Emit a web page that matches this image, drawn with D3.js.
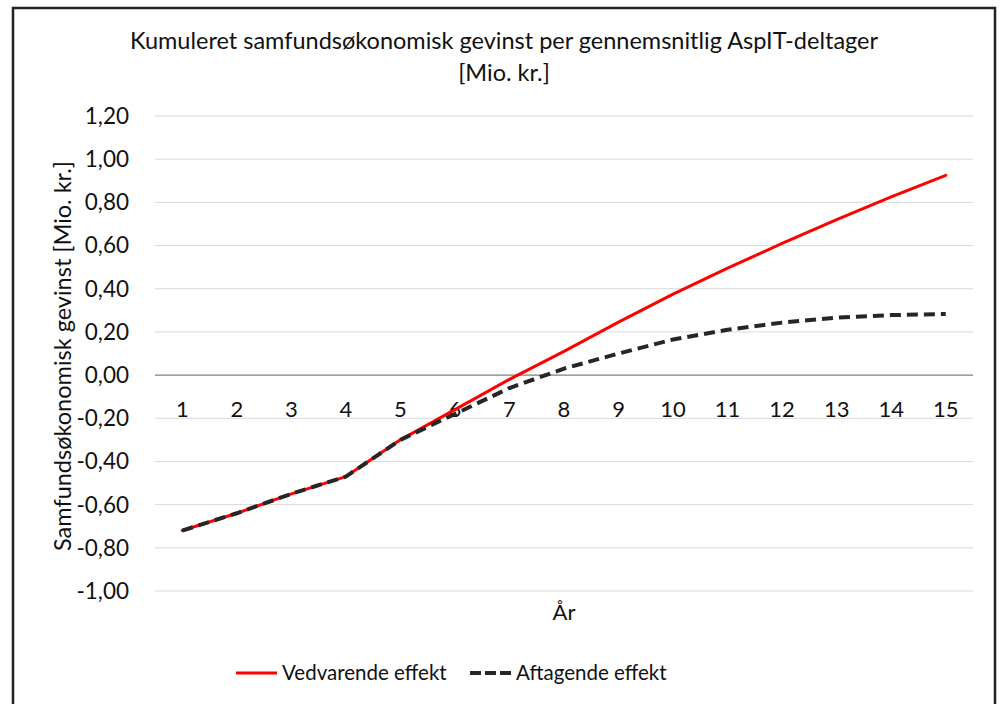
<!DOCTYPE html>
<html>
<head>
<meta charset="utf-8">
<script src="https://cdn.jsdelivr.net/npm/d3@7"></script>
<style>
  body { margin: 0; background: #fff; }
  svg { display: block; font-family: Lato, "Open Sans", sans-serif; }
</style>
</head>
<body>
<div id="chart"></div>
<script>
const years = [1, 2, 3, 4, 5, 6, 7, 8, 9, 10, 11, 12, 13, 14, 15];
const vedvarende = [-0.72, -0.64, -0.55, -0.47, -0.30, -0.16, -0.02, 0.11, 0.245, 0.375, 0.495, 0.61, 0.72, 0.825, 0.925];
const aftagende = [-0.72, -0.64, -0.55, -0.47, -0.30, -0.18, -0.06, 0.03, 0.10, 0.165, 0.21, 0.243, 0.266, 0.278, 0.283];
const yTicks = [-1, -0.8, -0.6, -0.4, -0.2, 0, 0.2, 0.4, 0.6, 0.8, 1, 1.2];
const seriesNames = ['Vedvarende effekt', 'Aftagende effekt'];

const W = 1000, H = 704;
const svg = d3.select('#chart').append('svg')
    .attr('width', W)
    .attr('height', H);

// chart frame (bottom edge runs off the picture)
svg.append('path')
    .attr('d', 'M13,712 V8 H995 V712')
    .attr('fill', 'none')
    .attr('stroke', '#222')
    .attr('stroke-width', 2.5);

let x = d3.scalePoint()
    .domain(years)
    .range([155, 973])
    .padding(0.5);
let y = d3.scaleLinear()
    .domain([-1, 1.2])
    .range([591, 116]);

// gridlines
svg.append('g')
    .selectAll('line')
    .data(yTicks.filter(d => d !== 0))
    .enter()
    .append('line')
    .attr('x1', 155)
    .attr('x2', 973)
    .attr('y1', d => y(d))
    .attr('y2', d => y(d))
    .attr('stroke', '#d9d9d9')
    .attr('stroke-width', 1);

// y tick labels
svg.append('g')
    .selectAll('text')
    .data(yTicks)
    .enter()
    .append('text')
    .attr('x', 129)
    .attr('y', d => y(d))
    .attr('dy', '0.35em')
    .attr('text-anchor', 'end')
    .attr('font-size', 22.5)
    .attr('fill', '#111')
    .text(d => d3.format('.2f')(d).replace('.', ',').replace('−', '-'));

// zero axis line
svg.append('line')
    .attr('x1', 155)
    .attr('x2', 973)
    .attr('y1', y(0))
    .attr('y2', y(0))
    .attr('stroke', '#7f7f7f')
    .attr('stroke-width', 1.2);

// x labels sit just under the zero line
svg.append('g')
    .selectAll('text')
    .data(years)
    .enter()
    .append('text')
    .attr('x', d => x(d))
    .attr('y', y(0) + 42)
    .attr('text-anchor', 'middle')
    .attr('font-size', 22)
    .attr('fill', '#111')
    .text(d => d);

let line = d3.line()
    .x((d, i) => x(years[i]))
    .y(d => y(d));

svg.append('path')
    .datum(vedvarende)
    .attr('d', line)
    .attr('fill', 'none')
    .attr('stroke', '#ff0000')
    .attr('stroke-width', 3)
    .attr('stroke-linejoin', 'round')
    .attr('stroke-linecap', 'round');

svg.append('path')
    .datum(aftagende)
    .attr('d', line)
    .attr('fill', 'none')
    .attr('stroke', '#262626')
    .attr('stroke-width', 4)
    .attr('stroke-dasharray', '11,6')
    .attr('stroke-linejoin', 'round');

// title
let title = svg.append('text')
    .attr('text-anchor', 'middle')
    .attr('font-size', 23.5)
    .attr('fill', '#111');
title.append('tspan').attr('x', 504).attr('y', 49).text('Kumuleret samfundsøkonomisk gevinst per gennemsnitlig AspIT-deltager');
title.append('tspan').attr('x', 504).attr('y', 81).text('[Mio. kr.]');

// axis titles
svg.append('text')
    .attr('transform', 'translate(71,356) rotate(-90)')
    .attr('text-anchor', 'middle')
    .attr('font-size', 23.5)
    .attr('fill', '#111')
    .text('Samfundsøkonomisk gevinst [Mio. kr.]');

svg.append('text')
    .attr('x', 564)
    .attr('y', 620)
    .attr('text-anchor', 'middle')
    .attr('font-size', 22)
    .attr('fill', '#111')
    .text('År');

// legend
let legend = svg.append('g');
legend.append('line')
    .attr('x1', 236).attr('x2', 277)
    .attr('y1', 673).attr('y2', 673)
    .attr('stroke', '#ff0000')
    .attr('stroke-width', 3);
legend.append('text')
    .attr('x', 282).attr('y', 673).attr('dy', '0.35em')
    .attr('font-size', 20.5).attr('fill', '#111')
    .text(seriesNames[0]);
legend.append('line')
    .attr('x1', 470).attr('x2', 512)
    .attr('y1', 673).attr('y2', 673)
    .attr('stroke', '#262626')
    .attr('stroke-width', 4)
    .attr('stroke-dasharray', '11,4');
legend.append('text')
    .attr('x', 516).attr('y', 673).attr('dy', '0.35em')
    .attr('font-size', 20.5).attr('fill', '#111')
    .text(seriesNames[1]);
</script>
</body>
</html>
